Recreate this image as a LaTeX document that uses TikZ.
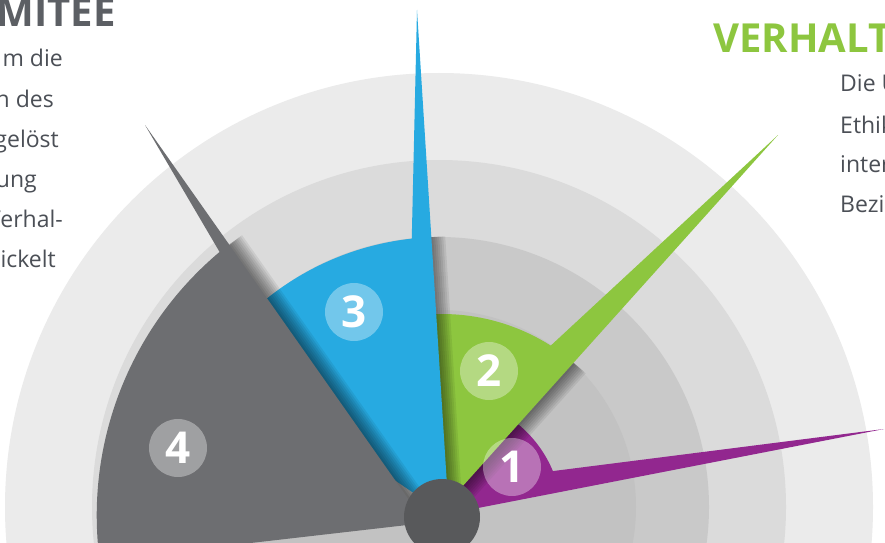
\documentclass[tikz,border=0pt]{standalone}
\usepackage{fontspec}
\setmainfont{Open Sans}
\definecolor{violett}{HTML}{92278F}
\definecolor{gruen}{HTML}{8DC63F}
\definecolor{blau}{HTML}{27AAE1}
\definecolor{grau}{HTML}{6D6E71}
\definecolor{nabe}{HTML}{58595B}
\definecolor{schrift}{HTML}{4B4F56}
\definecolor{titel}{HTML}{5C5F64}

\begin{document}
\begin{tikzpicture}[x=1pt,y=1pt,
  schatten/.style={black,opacity=0.07},
  badge/.style={circle,fill=white,fill opacity=0.35,text opacity=1,text=white,
    minimum size=58pt,inner sep=0pt,font=\fontsize{44}{44}\selectfont\bfseries},
  body/.style={anchor=base east,text=schrift,inner sep=0pt,font=\fontsize{23}{28}\selectfont},
  head/.style={inner sep=0pt,font=\fontsize{40}{44}\selectfont\bfseries}]
 \useasboundingbox (0,0) rectangle (885,542);
 \clip (0,0) rectangle (885,542);
 \fill[white] (0,0) rectangle (885,542);
 \foreach \r/\g in {434/8,347/14,270/21,197/24}
   \fill[black!\g] (439,35) circle[radius=\r];
 \begin{scope}[shift={(442,25)}]
  \fill[violett] (0,2) -- (442,88) -- (22.5:120) arc[start angle=22.5,end angle=70,radius=120] -- cycle;
  \foreach \k in {2,4,...,16}
    \fill[schatten,shift={(-41.9:\k)}] (-7,0) -- (49.5:203) arc[start angle=49.5,end angle=110,radius=203] -- cycle;
  \fill[gruen] (-7,0) -- (336,382) -- (57.6:203) arc[start angle=57.6,end angle=110,radius=203] -- cycle;
  \foreach \k in {2,4,...,14}
    \fill[schatten,shift={(3.6:\k)}] (7,0) -- (92.2:280) arc[start angle=92.2,end angle=145,radius=280] -- cycle;
  \fill[blau] (7,0) -- (-25,507) -- (96.2:280) arc[start angle=96.2,end angle=145,radius=280] -- cycle;
  \foreach \k in {2,4,...,16}
    \fill[schatten,shift={(35.1:\k)}] (-21,0) -- (128:346) arc[start angle=128,end angle=187.5,radius=346] -- cycle;
  \fill[grau] (-21,0) -- (-297,392) -- (130:346) arc[start angle=130,end angle=187.5,radius=344] -- (0,-4) -- cycle;
 \end{scope}
 \node[circle,fill=nabe,minimum size=76pt,inner sep=0pt] (nabe) at (442,25) {};
 \node[badge] (n1) at (512,75) {1};
 \node[badge] (n2) at (489,171) {2};
 \node[badge] (n3) at (354,230) {3};
 \node[badge] (n4) at (178,94) {4};
 \node[head,text=titel,anchor=base east] (kopf1) at (116,515) {MITEE};
 \node[head,text=gruen,anchor=base west] (kopf2) at (713,489) {VERHALT};
 \foreach \t/\x/\y [count=\i] in {m die/63/475,n des/54/435,gelöst/59/395,ung/37/355,Verhal-/63/315,ickelt/56/275}
   \node[body] (l\i) at (\x,\y) {\t};
 \foreach \t/\y [count=\i] in {Die U/450,Ethik/409,inter/370,Bezi/330}
   \node[body,anchor=base west] (r\i) at (840,\y) {\t};
\end{tikzpicture}
\end{document}
